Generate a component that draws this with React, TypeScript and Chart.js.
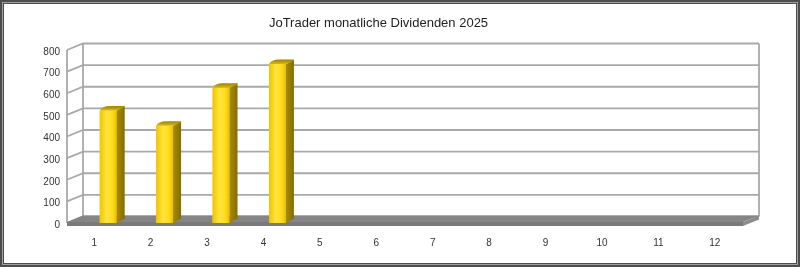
import React, { useEffect, useRef } from "react";
import { Chart, registerables } from "chart.js";

Chart.register(...registerables);

const categories = ["1", "2", "3", "4", "5", "6", "7", "8", "9", "10", "11", "12"];
const dividends: (number | null)[] = [520, 450, 625, 735, null, null, null, null, null, null, null, null];
const yTicks = [0, 100, 200, 300, 400, 500, 600, 700, 800];
const titleText = "JoTrader monatliche Dividenden 2025";

const FONT = "'Liberation Sans', Arial, sans-serif";
const WALL = { dx: 16, dy: -6.5 };
const BAR3D = { dx: 8, dy: -4.5 };

const walls3d = {
  id: "walls3d",
  beforeDatasetsDraw(chart: any) {
    const { ctx, chartArea } = chart;
    const ys = chart.scales.y;
    const fl = chartArea.left - 13;
    const fr = chartArea.right - 14;
    const bl = fl + WALL.dx;
    const br = fr + WALL.dx;
    const yTop = ys.getPixelForValue(yTicks[yTicks.length - 1]);
    const yZero = ys.getPixelForValue(0);
    ctx.save();
    ctx.strokeStyle = "#a9a9a9";
    ctx.lineWidth = 1.8;
    for (const v of yTicks) {
      const yf = ys.getPixelForValue(v);
      const yb = yf + WALL.dy;
      ctx.beginPath();
      ctx.moveTo(fl, yf);
      ctx.lineTo(bl, yb);
      ctx.lineTo(br, yb);
      ctx.stroke();
    }
    ctx.beginPath();
    ctx.moveTo(fl, yTop);
    ctx.lineTo(fl, yZero);
    ctx.moveTo(bl, yTop + WALL.dy);
    ctx.lineTo(bl, yZero + WALL.dy);
    ctx.moveTo(br, yTop + WALL.dy);
    ctx.lineTo(br, yZero + WALL.dy);
    ctx.stroke();
    // floor
    const ff = yZero - 1;
    const th = 4;
    ctx.fillStyle = "#858585";
    ctx.beginPath();
    ctx.moveTo(fl, ff);
    ctx.lineTo(bl, ff + WALL.dy);
    ctx.lineTo(br, ff + WALL.dy);
    ctx.lineTo(fr, ff);
    ctx.closePath();
    ctx.fill();
    ctx.fillStyle = "#7a7a7a";
    ctx.fillRect(fl, ff, fr - fl, th);
    ctx.fillStyle = "#8c8c8c";
    ctx.beginPath();
    ctx.moveTo(fr, ff);
    ctx.lineTo(br, ff + WALL.dy);
    ctx.lineTo(br, ff + WALL.dy + th);
    ctx.lineTo(fr, ff + th);
    ctx.closePath();
    ctx.fill();
    ctx.restore();
  },
  afterDatasetsDraw(chart: any) {
    const { ctx } = chart;
    const meta = chart.getDatasetMeta(0);
    ctx.save();
    meta.data.forEach((el: any, i: number) => {
      const v = dividends[i];
      if (v == null || v <= 0) return;
      const { x, y, base, width } = el.getProps(["x", "y", "base", "width"], true);
      const x0 = x - width / 2;
      const x1 = x + width / 2;
      const { dx, dy } = BAR3D;
      const gf = ctx.createLinearGradient(x0, 0, x1, 0);
      gf.addColorStop(0, "#f0c400");
      gf.addColorStop(0.4, "#ffe43a");
      gf.addColorStop(0.75, "#ffdc1c");
      gf.addColorStop(1, "#eabf00");
      ctx.fillStyle = gf;
      ctx.fillRect(x0, y, width, base - y);
      const gs = ctx.createLinearGradient(x1, 0, x1 + dx, 0);
      gs.addColorStop(0, "#a88c00");
      gs.addColorStop(1, "#836d00");
      ctx.fillStyle = gs;
      ctx.beginPath();
      ctx.moveTo(x1, y);
      ctx.lineTo(x1 + dx, y + dy);
      ctx.lineTo(x1 + dx, base + dy);
      ctx.lineTo(x1, base);
      ctx.closePath();
      ctx.fill();
      const gt = ctx.createLinearGradient(0, y + dy, 0, y);
      gt.addColorStop(0, "#9c8400");
      gt.addColorStop(1, "#d8b810");
      ctx.fillStyle = gt;
      ctx.beginPath();
      ctx.moveTo(x0, y);
      ctx.quadraticCurveTo(x0 + dx * 0.3, y + dy, x0 + dx + 2, y + dy);
      ctx.lineTo(x1 + dx - 1, y + dy);
      ctx.quadraticCurveTo(x1 + dx, y + dy, x1 + dx, y + dy + 1);
      ctx.lineTo(x1, y);
      ctx.closePath();
      ctx.fill();
    });
    ctx.restore();
  },
};

export default function App() {
  const ref = useRef<HTMLCanvasElement | null>(null);
  useEffect(() => {
    document.body.style.margin = "0";
    if (!ref.current) return;
    const chart = new Chart(ref.current, {
      type: "bar",
      data: {
        labels: categories,
        datasets: [
          {
            data: dividends,
            backgroundColor: "#ffd81a",
            borderWidth: 0,
            barPercentage: 0.3,
            categoryPercentage: 1,
          },
        ],
      },
      options: {
        responsive: false,
        animation: false,
        layout: { padding: { left: 0, right: 43, top: 0, bottom: 0 } },
        plugins: {
          legend: { display: false },
          tooltip: { enabled: false },
          title: {
            display: true,
            text: titleText,
            color: "#222",
            font: { family: FONT, size: 13, weight: "normal" },
            padding: { top: 15.5, bottom: 18.9 },
          },
        },
        scales: {
          x: {
            offset: true,
            grid: { display: false, drawTicks: false },
            border: { display: false },
            ticks: {
              color: "#333",
              font: { family: FONT, size: 10 },
              padding: 14,
              labelOffset: -14,
              maxRotation: 0,
              autoSkip: false,
            },
            afterFit: (s: any) => {
              s.height = 44;
            },
          },
          y: {
            min: 0,
            max: 800,
            grid: { display: false, drawTicks: false },
            border: { display: false },
            ticks: {
              stepSize: 100,
              color: "#333",
              font: { family: FONT, size: 10 },
              padding: 20,
              labelOffset: 2,
            },
            afterFit: (s: any) => {
              s.width = 80;
            },
          },
        },
      },
      plugins: [walls3d],
    });
    return () => chart.destroy();
  }, []);

  return (
    <div style={{ position: "relative", width: 800, height: 267, background: "#fff" }}>
      <canvas ref={ref} width={800} height={267} style={{ display: "block" }} />
      <div style={{ position: "absolute", inset: 0, border: "2px solid #4d4d4d", pointerEvents: "none" }} />
      <div style={{ position: "absolute", inset: 2, border: "1px solid #a0a0a0", pointerEvents: "none" }} />
      <div style={{ position: "absolute", inset: 3, border: "1px solid #4d4d4d", pointerEvents: "none" }} />
    </div>
  );
}
